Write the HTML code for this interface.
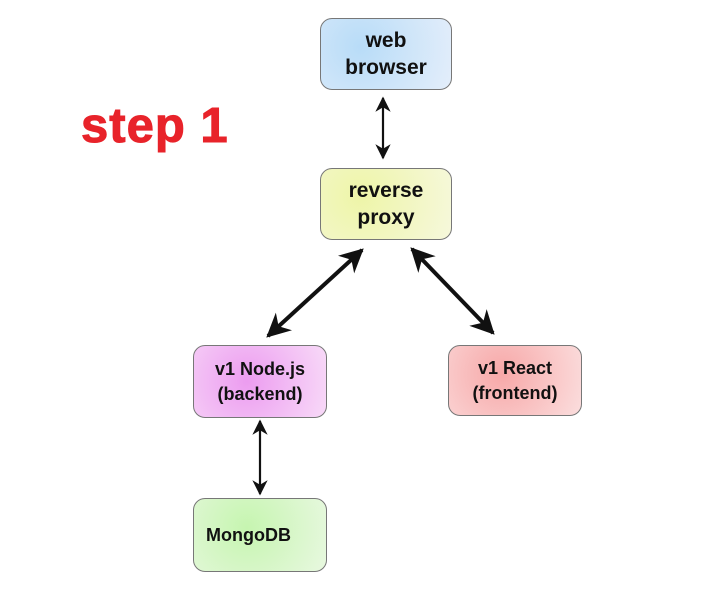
<!DOCTYPE html>
<html><head><meta charset="utf-8"><style>
body{margin:0;width:716px;height:595px;background:#fff;position:relative;overflow:hidden;font-family:"Liberation Sans",Arial,sans-serif}
.b{position:absolute;box-sizing:border-box;border:1.5px solid #777;border-radius:12px;display:flex;align-items:center;justify-content:center;text-align:center;font-weight:bold;font-size:19px;line-height:27px;color:#111}
.t{position:absolute;left:81px;top:98px;font-size:49px;font-weight:bold;color:#e8232a;letter-spacing:1px;-webkit-text-stroke:1px #e8232a}
</style></head><body>
<div class="t">step 1</div>
<div class="b" style="left:320px;top:18px;width:132px;height:72px;background:radial-gradient(circle at 30% 40%,#b8dcf8,#e4eefa);font-size:21px">web<br>browser</div>
<div class="b" style="left:320px;top:168px;width:132px;height:72px;background:radial-gradient(circle at 30% 40%,#eef5a8,#f6f8dc);font-size:21px">reverse<br>proxy</div>
<div class="b" style="left:193px;top:345px;width:134px;height:73px;background:radial-gradient(circle at 40% 50%,#ec9cf0,#f8daf8);font-size:18px;line-height:25px">v1 Node.js<br>(backend)</div>
<div class="b" style="left:448px;top:345px;width:134px;height:71px;background:radial-gradient(circle at 40% 40%,#f7a8a8,#fbdede);font-size:18px;line-height:25px">v1 React<br>(frontend)</div>
<div class="b" style="left:193px;top:498px;width:134px;height:74px;background:radial-gradient(circle at 40% 40%,#c6f5b0,#e8f8e0);font-size:18px;justify-content:flex-start;padding-left:12px">MongoDB</div>
<svg width="716" height="595" style="position:absolute;left:0;top:0">
<defs>
<marker id="a" viewBox="0 0 10 10" refX="9" refY="5" markerWidth="6" markerHeight="6" orient="auto-start-reverse"><path d="M0,0L10,5L0,10L3,5z" fill="#111"/></marker>
<marker id="c" viewBox="0 0 10 10" refX="9" refY="5" markerWidth="8" markerHeight="7" orient="auto-start-reverse"><path d="M0,0L10,5L0,10L3,5z" fill="#111"/></marker>
</defs>
<g stroke="#111" fill="none">
<line x1="383" y1="98" x2="383" y2="158" stroke-width="2.2" marker-start="url(#c)" marker-end="url(#c)"/>
<line x1="260" y1="421" x2="260" y2="494" stroke-width="2.2" marker-start="url(#c)" marker-end="url(#c)"/>
<line x1="362" y1="250" x2="268" y2="336" stroke-width="4" marker-start="url(#a)" marker-end="url(#a)"/>
<line x1="412" y1="249" x2="493" y2="333" stroke-width="4" marker-start="url(#a)" marker-end="url(#a)"/>
</g></svg>
</body></html>
